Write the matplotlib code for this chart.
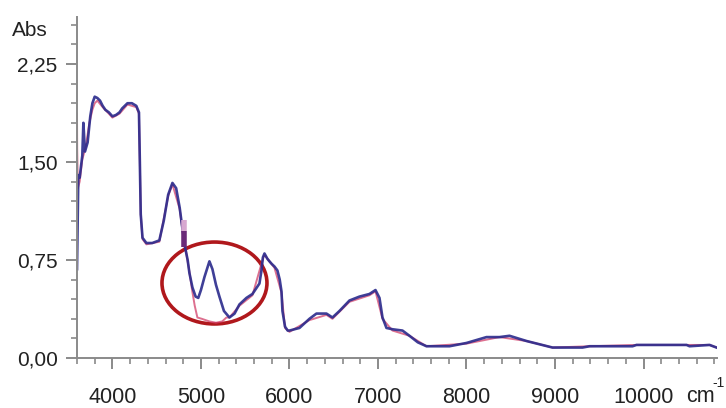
import matplotlib.pyplot as plt
from matplotlib.patches import Ellipse
from matplotlib.ticker import MultipleLocator, FuncFormatter

plt.rcParams['font.family'] = ['Liberation Sans', 'DejaVu Sans']

# blue spectrum (wavenumber cm-1, absorbance)
blue_x = [3600, 3615, 3630, 3660, 3672, 3690, 3720, 3750, 3774, 3800, 3830, 3860,
          3890, 3920, 3960, 4000, 4040, 4080, 4110, 4140, 4170, 4220, 4270, 4300,
          4310, 4320, 4340, 4384, 4450, 4530, 4580, 4630, 4678, 4720, 4760, 4791,
          4820, 4850, 4870, 4904, 4940, 4970, 5000, 5040, 5096, 5130, 5170, 5209,
          5260, 5322, 5380, 5435, 5514, 5582, 5661, 5684, 5700, 5718, 5750, 5774,
          5800, 5831, 5864, 5890, 5910, 5921, 5950, 5980, 6000, 6113, 6226, 6305,
          6418, 6486, 6565, 6678, 6791, 6904, 6972, 7017, 7051, 7096, 7164, 7277,
          7356, 7450, 7548, 7808, 8000, 8226, 8373, 8486, 8678, 8825, 8972, 9311,
          9390, 9876, 9921, 10486, 10520, 10746, 10825]
blue_y = [0.68, 1.40, 1.38, 1.55, 1.80, 1.58, 1.65, 1.85, 1.95, 2.00, 1.99, 1.97,
          1.93, 1.90, 1.88, 1.85, 1.86, 1.88, 1.91, 1.93, 1.95, 1.95, 1.93, 1.88,
          1.50, 1.10, 0.92, 0.88, 0.88, 0.90, 1.05, 1.25, 1.34, 1.30, 1.15, 0.99,
          0.85, 0.75, 0.65, 0.54, 0.47, 0.46, 0.52, 0.62, 0.74, 0.68, 0.56, 0.47,
          0.36, 0.31, 0.34, 0.41, 0.46, 0.49, 0.57, 0.67, 0.77, 0.80, 0.76, 0.74,
          0.72, 0.70, 0.67, 0.60, 0.51, 0.36, 0.24, 0.21, 0.21, 0.23, 0.30, 0.34,
          0.34, 0.31, 0.36, 0.44, 0.47, 0.49, 0.52, 0.46, 0.31, 0.23, 0.22, 0.21,
          0.17, 0.12, 0.09, 0.09, 0.115, 0.16, 0.16, 0.17, 0.13, 0.105, 0.08, 0.08,
          0.09, 0.09, 0.10, 0.10, 0.09, 0.10, 0.08]

# red spectrum, differs at the start and in the circled band
red_x = [3600, 3602, 3610, 3630, 3660, 3700, 3740, 3774, 3800, 3830, 3890, 3960,
         4000, 4080, 4170, 4270, 4300, 4310, 4320, 4340, 4384, 4530, 4630, 4678,
         4760, 4791, 4850, 4870, 4900, 4930, 4960, 5010, 5096, 5170, 5240, 5288,
         5322, 5435, 5582, 5700, 5718, 5831, 5910, 5950, 6000, 6226, 6418, 6486,
         6678, 6904, 6972, 7051, 7164, 7356, 7548, 8000, 8373, 8678, 8972, 9390,
         9921, 10486, 10746, 10825]
red_y = [1.87, 1.60, 1.30, 1.35, 1.52, 1.62, 1.80, 1.90, 1.95, 1.97, 1.92, 1.87,
         1.84, 1.87, 1.94, 1.92, 1.87, 1.50, 1.10, 0.91, 0.87, 0.89, 1.24, 1.33,
         1.14, 0.98, 0.74, 0.66, 0.52, 0.40, 0.31, 0.30, 0.28, 0.27, 0.28, 0.31,
         0.31, 0.40, 0.48, 0.76, 0.79, 0.69, 0.50, 0.23, 0.20, 0.29, 0.33, 0.30,
         0.43, 0.48, 0.51, 0.30, 0.21, 0.17, 0.09, 0.11, 0.16, 0.13, 0.08, 0.09,
         0.10, 0.10, 0.10, 0.08]

# cursor marker near 4810
marker_x = [4810, 4810]
marker_dark = [0.85, 0.97]
marker_light = [0.97, 1.06]

x_ticks = [4000, 5000, 6000, 7000, 8000, 9000, 10000]
y_ticks = [0.0, 0.75, 1.5, 2.25]

fig = plt.figure(figsize=(7.26, 4.08), dpi=100)
ax = fig.add_axes([77 / 726, 1 - 358 / 408, 640 / 726, 341 / 408])

ax.plot(red_x, red_y, color='#d2406a', lw=1.4, alpha=0.75)
ax.plot(blue_x, blue_y, color='#2a2a8c', lw=1.9, alpha=0.9)
ax.plot(marker_x, marker_light, color='#d8a8d0', lw=4, solid_capstyle='butt')
ax.plot(marker_x, marker_dark, color='#6a2a78', lw=4, solid_capstyle='butt')

# red circle around the 5000 band
ax.add_patch(Ellipse((5153, 0.574), 1186, 0.627, fill=False,
                     edgecolor='#b0181c', lw=2.6))

ax.set_xlim(3600, 10830)
ax.set_ylim(0, 2.61)

ax.set_xticks(x_ticks)
ax.set_yticks(y_ticks)
ax.xaxis.set_minor_locator(MultipleLocator(200))
ax.yaxis.set_minor_locator(MultipleLocator(0.15))
ax.yaxis.set_major_formatter(FuncFormatter(lambda v, p: f'{v:.2f}'.replace('.', ',')))

for s in ['top', 'right']:
    ax.spines[s].set_visible(False)
for s in ['left', 'bottom']:
    ax.spines[s].set_color('#8a8a8a')
    ax.spines[s].set_linewidth(1.4)

ax.tick_params(axis='x', which='major', length=8, width=1.4, color='#8a8a8a',
               pad=13, labelsize=15.5, labelcolor='#222222')
ax.tick_params(axis='x', which='minor', length=4.5, width=1.2, color='#8a8a8a')
ax.tick_params(axis='y', which='major', length=8, width=1.4, color='#8a8a8a',
               pad=6, labelsize=15, labelcolor='#222222')
ax.tick_params(axis='y', which='minor', length=4, width=1.2, color='#8a8a8a')

fig.text(12 / 726, 1 - 30 / 408, 'Abs', fontsize=15, color='#222222', va='center')
fig.text(686 / 726, 1 - 396 / 408, 'cm', fontsize=15.5, color='#222222', va='center')
fig.text(712 / 726, 1 - 383 / 408, '-1', fontsize=10, color='#222222', va='center')

fig.savefig('out.png', dpi=100)
